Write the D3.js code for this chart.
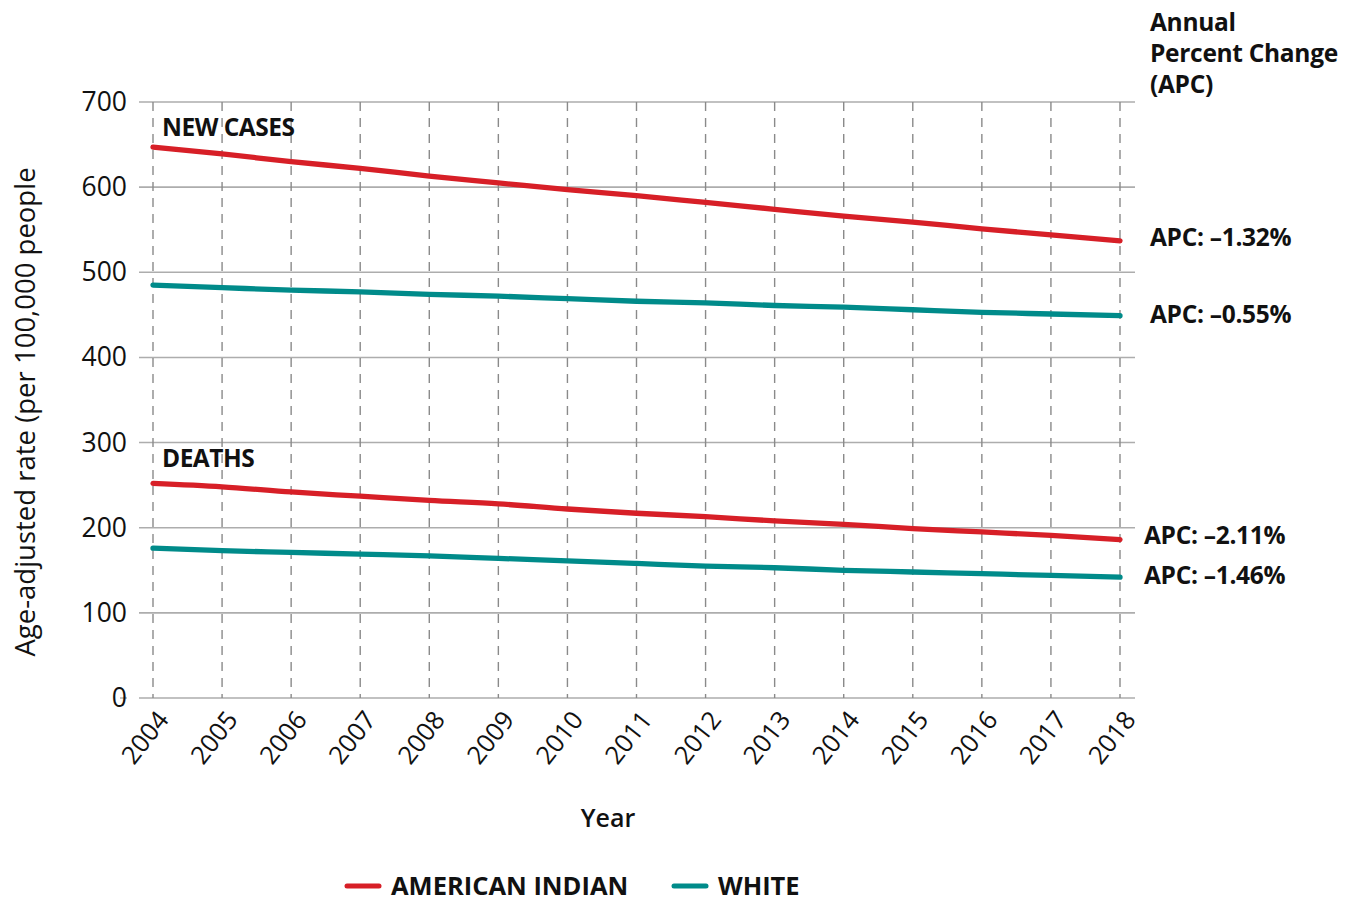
<!DOCTYPE html>
<html>
<head>
<meta charset="utf-8">
<script src="https://cdn.jsdelivr.net/npm/d3@7"></script>
<style>
  body { margin: 0; background: #fff; }
  svg text { font-family: "Open Sans", sans-serif; fill: #111; }
</style>
</head>
<body>
<svg id="chart" width="1353" height="903"></svg>
<script>
var years = [2004, 2005, 2006, 2007, 2008, 2009, 2010, 2011, 2012, 2013, 2014, 2015, 2016, 2017, 2018];
var yTicks = [0, 100, 200, 300, 400, 500, 600, 700];

// new cases per 100,000
var aiCases    = [647, 639, 630, 622, 613, 605, 597, 590, 582, 574, 566, 559, 551, 544, 537];
var whiteCases = [485, 482, 479, 477, 474, 472, 469, 466, 464, 461, 459, 456, 453, 451, 449];
// deaths per 100,000
var aiDeaths    = [252, 248, 242, 237, 232, 228, 222, 217, 213, 208, 204, 199, 195, 191, 186];
var whiteDeaths = [176, 173, 171, 169, 167, 164, 161, 158, 155, 153, 150, 148, 146, 144, 142];

var apcLabels = ["APC: \u20131.32%", "APC: \u20130.55%", "APC: \u20132.11%", "APC: \u20131.46%"];
var legendNames = ["AMERICAN INDIAN", "WHITE"];

var red = "#d71f27";
var teal = "#008b8a";

var svg = d3.select("svg#chart");

var x = d3.scaleLinear()
  .domain([2004, 2018])
  .range([153, 1120]);

var y = d3.scaleLinear()
  .domain([0, 700])
  .range([698, 102]);

var translate = function(a, b) { return "translate(" + a + "," + b + ")"; };

// horizontal grid
svg.append("g")
  .attr("class", "grid")
  .selectAll("line")
  .data(yTicks)
  .enter()
  .append("line")
  .attr("x1", 139)
  .attr("x2", 1135)
  .attr("y1", d => y(d))
  .attr("y2", d => y(d))
  .style("stroke", "#adadad")
  .style("stroke-width", 1.6);

// vertical dashed lines
svg.append("g")
  .selectAll("line")
  .data(years)
  .enter()
  .append("line")
  .attr("x1", d => x(d))
  .attr("x2", d => x(d))
  .attr("y1", y(700))
  .attr("y2", y(0))
  .style("stroke", "#8a8a8a")
  .style("stroke-width", 1.4)
  .style("stroke-dasharray", "9,7");

// small tick beside 0
svg.append("line")
  .attr("x1", 120).attr("x2", 127)
  .attr("y1", y(0)).attr("y2", y(0))
  .style("stroke", "#adadad")
  .style("stroke-width", 1.4);

// y tick labels
svg.append("g")
  .selectAll("text")
  .data(yTicks)
  .enter()
  .append("text")
  .attr("x", 127)
  .attr("y", d => y(d) + 9)
  .attr("text-anchor", "end")
  .style("font-size", "26.5px")
  .text(d => d);

// x tick labels
svg.append("g")
  .selectAll("text")
  .data(years)
  .enter()
  .append("text")
  .attr("transform", d => translate(x(d) + 17, y(0) + 22) + " rotate(-52)")
  .attr("text-anchor", "end")
  .style("font-size", "25.5px")
  .text(d => d);

// axis titles
svg.append("text")
  .attr("transform", translate(35, 412) + " rotate(-90)")
  .attr("text-anchor", "middle")
  .style("font-size", "27.5px")
  .text("Age-adjusted rate (per 100,000 people");

svg.append("text")
  .attr("x", 608)
  .attr("y", 827)
  .attr("text-anchor", "middle")
  .style("font-size", "25px")
  .style("font-weight", 600)
  .text("Year");

// lines
var line = d3.line()
  .x((d, i) => x(years[i]))
  .y(d => y(d))
  .curve(d3.curveMonotoneX);

var series = [
  { values: aiCases, color: red },
  { values: whiteCases, color: teal },
  { values: aiDeaths, color: red },
  { values: whiteDeaths, color: teal }
];

svg.append("g")
  .selectAll("path")
  .data(series)
  .enter()
  .append("path")
  .attr("d", d => line(d.values))
  .style("fill", "none")
  .style("stroke", d => d.color)
  .style("stroke-width", 5.3)
  .style("stroke-linecap", "round");

// section labels
svg.append("text")
  .attr("x", 162).attr("y", 136)
  .style("font-size", "24.5px").style("font-weight", 700)
  .style("letter-spacing", "-0.5px")
  .text("NEW CASES");

svg.append("text")
  .attr("x", 162).attr("y", 467)
  .style("font-size", "24.5px").style("font-weight", 700)
  .style("letter-spacing", "-0.5px")
  .text("DEATHS");

// APC header
var header = svg.append("text")
  .attr("x", 1150)
  .attr("y", 31)
  .style("font-size", "24.5px")
  .style("font-weight", 700)
  .style("letter-spacing", "-0.3px");
["Annual", "Percent Change", "(APC)"].forEach(function(t, i) {
  header.append("tspan").attr("x", 1150).attr("dy", i == 0 ? 0 : 31).text(t);
});

// APC labels next to line ends
var apcX = [1150, 1150, 1144, 1144];
var apcY = [aiCases[14], whiteCases[14], aiDeaths[14], whiteDeaths[14]];
var apcShift = [5, 7, 4, 7];
svg.append("g")
  .selectAll("text")
  .data(apcLabels)
  .enter()
  .append("text")
  .attr("x", (d, i) => apcX[i])
  .attr("y", (d, i) => y(apcY[i]) + apcShift[i])
  .style("font-size", "24.5px")
  .style("font-weight", 700)
  .style("letter-spacing", "-0.3px")
  .text(d => d);

// legend
var legendX = [345, 672];
var legendColors = [red, teal];
var legend = svg.append("g")
  .selectAll("g")
  .data(legendNames)
  .enter()
  .append("g")
  .attr("transform", (d, i) => translate(legendX[i], 886));

legend.append("line")
  .attr("x1", 2).attr("x2", 34)
  .attr("y1", 0).attr("y2", 0)
  .style("stroke", (d, i) => legendColors[i])
  .style("stroke-width", 5)
  .style("stroke-linecap", "round");

legend.append("text")
  .attr("x", 46)
  .attr("y", 9)
  .style("font-size", "25.5px")
  .style("font-weight", 700)
  .text(d => d);
</script>
</body>
</html>
